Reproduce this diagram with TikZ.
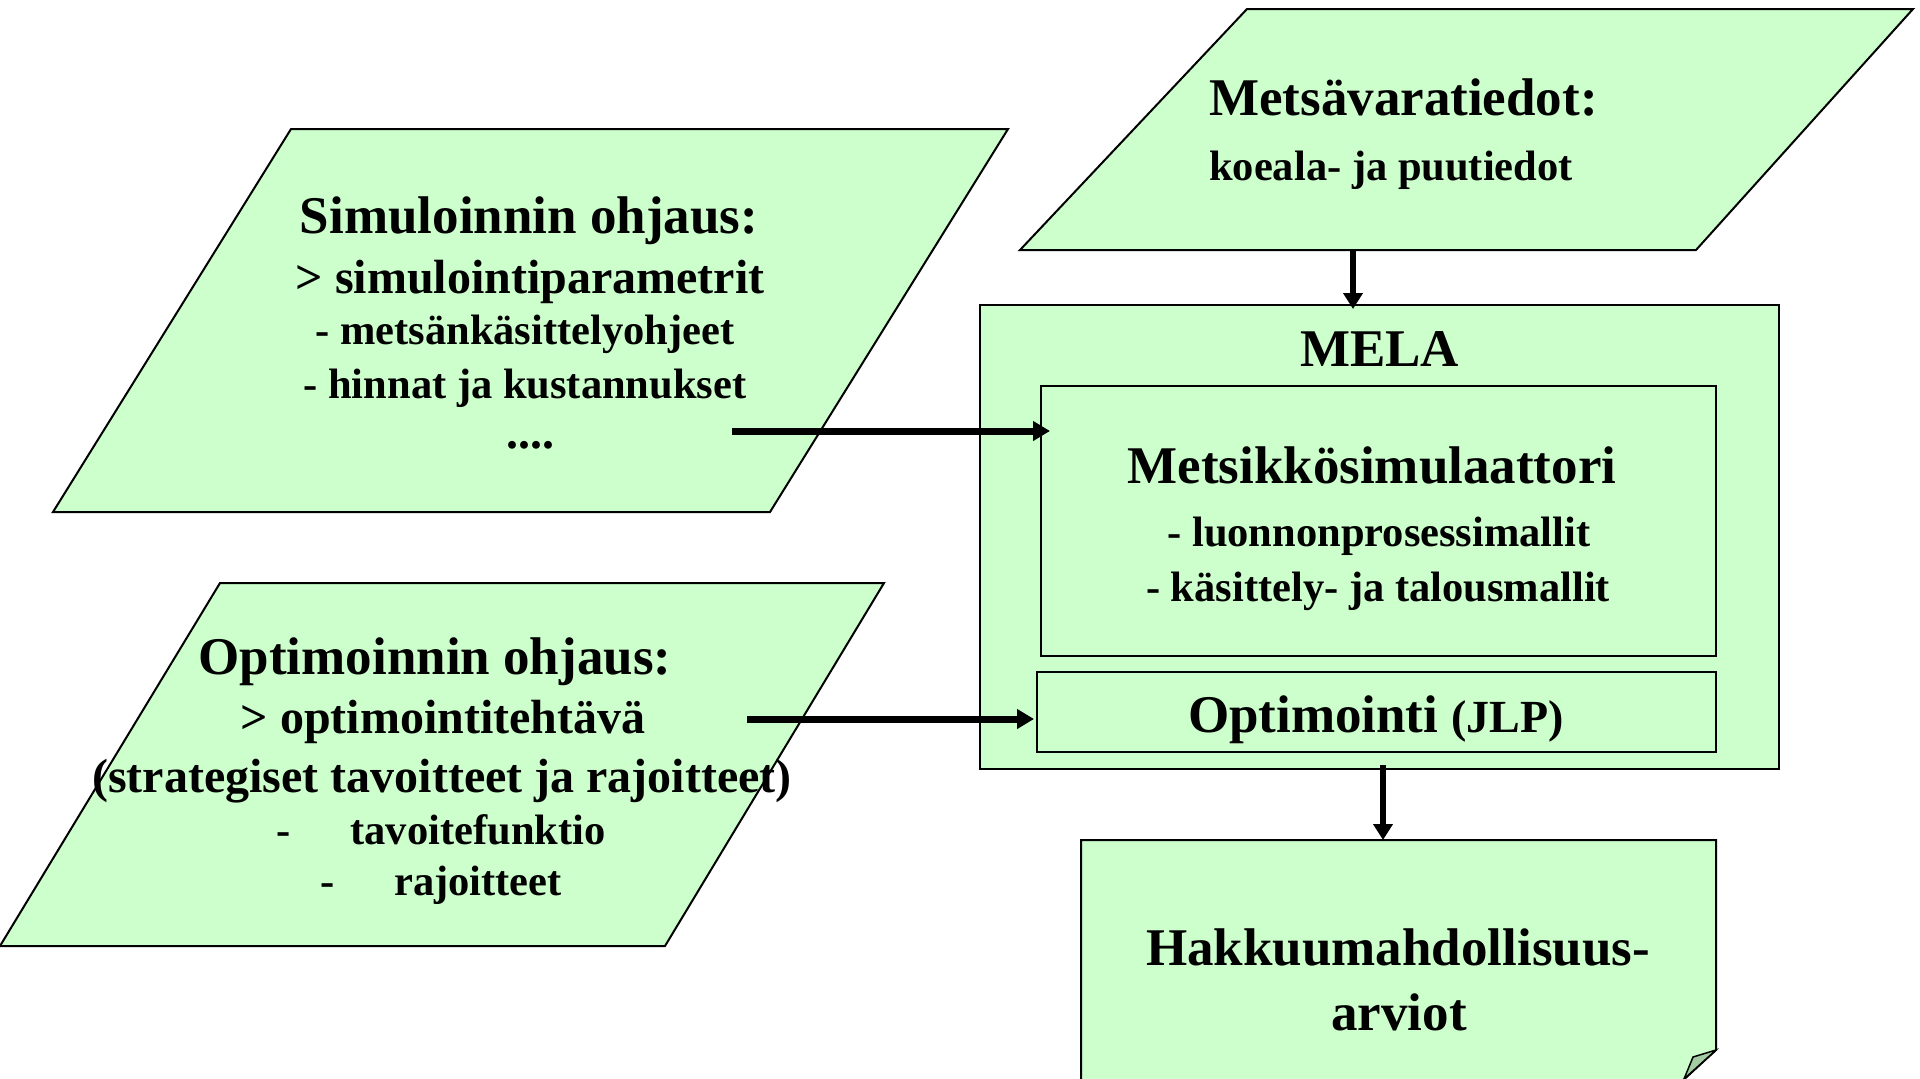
\documentclass[tikz,border=0pt]{standalone}
\usepackage{fontspec}
\setmainfont{Liberation Serif}
\usetikzlibrary{arrows.meta}
\definecolor{boxgreen}{HTML}{CCFFCC}
\definecolor{flapgreen}{HTML}{A3CCA3}
\tikzset{
  shapeline/.style={draw=black, line width=2pt, fill=boxgreen, line join=miter},
  boxnode/.style={shapeline, rectangle, inner sep=0pt, outer sep=0pt},
  flowh/.style={line width=7pt, -{Triangle[length=17pt,width=19pt]}},
  flowv/.style={line width=5.5pt, -{Triangle[length=16pt,width=19pt]}},
  txtA/.style={font=\bfseries\fontsize{53}{60}\selectfont, anchor=base, inner sep=0pt},
  txtB/.style={font=\bfseries\fontsize{48}{56}\selectfont, anchor=base, inner sep=0pt},
  txtC/.style={font=\bfseries\fontsize{42.5}{50}\selectfont, anchor=base, inner sep=0pt},
}
\begin{document}
\begin{tikzpicture}[x=1pt,y=-1pt]
\useasboundingbox (0,0) rectangle (1920,1079);

% Metsavaratiedot
\draw[shapeline] (1247,9) -- (1913,9) -- (1696,250) -- (1020,250) -- cycle;
\node[txtA, anchor=base west] (mvt1) at (1209,115) {Metsävaratiedot:};
\node[txtC, anchor=base west] (mvt2) at (1209,180) {koeala- ja puutiedot};
\coordinate (mvbottom) at (1353,250);

% Simuloinnin ohjaus
\draw[shapeline] (291,129) -- (1008,129) -- (770,512) -- (53,512) -- cycle;
\node[txtA] (s1) at (529,233) {Simuloinnin ohjaus:};
\node[txtB] (s2) at (530,293) {> simulointiparametrit};
\node[txtC] (s3) at (525,344) {- metsänkäsittelyohjeet};
\node[txtC] (s4) at (525,398) {- hinnat ja kustannukset};
\node[txtB] (s5) at (530,448) {....};
\coordinate (simstart) at (732,431);

% Optimoinnin ohjaus
\draw[shapeline] (220,583) -- (884,583) -- (665,946) -- (0,946) -- cycle;
\node[txtA] (o1) at (435,674) {Optimoinnin ohjaus:};
\node[txtB] (o2) at (443,733) {> optimointitehtävä};
\node[txtB] (o3) at (442,792) {(strategiset tavoitteet ja rajoitteet)};
\node[txtC] (o4a) at (284,844) {-};
\node[txtC] (o4b) at (478,844) {tavoitefunktio};
\node[txtC] (o5a) at (328,895) {-};
\node[txtC] (o5b) at (478,895) {rajoitteet};
\coordinate (optstart) at (747,719);

% MELA
\node[boxnode, minimum width=799pt, minimum height=464pt] (mela) at (1379.5,537) {};
\node[txtA] (melat) at (1379.5,366) {MELA};
\node[boxnode, minimum width=675pt, minimum height=270pt] (metsik) at (1378.5,521) {};
\node[txtA] (m1) at (1372,483) {Metsikkösimulaattori};
\node[txtC] (m2) at (1379,546) {- luonnonprosessimallit};
\node[txtC] (m3) at (1378,601) {- käsittely- ja talousmallit};
\node[boxnode, minimum width=679pt, minimum height=80pt] (optbox) at (1376.5,712) {};
\node[txtA] (ot) at (1376,732) {Optimointi {\fontsize{46}{50}\selectfont (JLP)}};

% Hakkuumahdollisuusarviot (document shape)
\draw[shapeline] (1081,1095) -- (1081,840) coordinate (hktop) -- (1716,840) -- (1716,1050) -- (1667,1095);
\filldraw[draw=black, line width=1.5pt, fill=flapgreen, line join=miter] (1716,1050) -- (1693,1057) -- (1684,1079) -- cycle;
\node[txtA] (h1) at (1398,965) {Hakkuumahdollisuus-};
\node[txtA] (h2) at (1399,1030) {arviot};
\coordinate (hkin) at (1383,840);
\coordinate (melaout) at (1383,765);

% connectors
\draw[flowv] (mvbottom) -- ([yshift=-4pt]mvbottom |- mela.north);
\draw[flowh] (simstart) -- ([xshift=9pt]simstart -| metsik.west);
\draw[flowh] (optstart) -- ([xshift=-3pt]optstart -| optbox.west);
\draw[flowv] (melaout) -- (hkin);
\end{tikzpicture}
\end{document}
